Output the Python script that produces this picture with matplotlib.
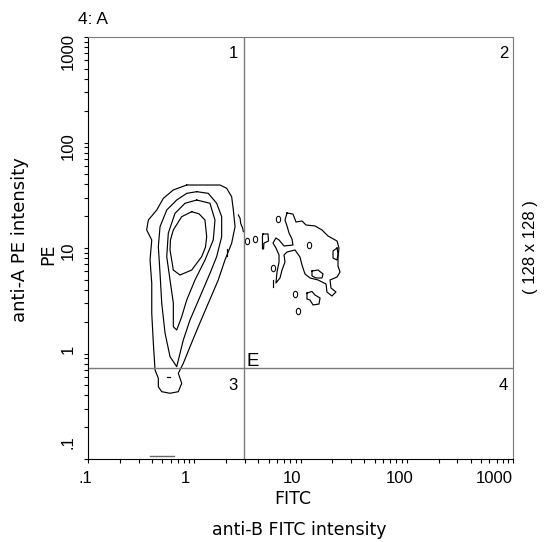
import numpy as np
import matplotlib
matplotlib.use("Agg")
import matplotlib.pyplot as plt
from matplotlib.path import Path
from matplotlib.transforms import Affine2D, ScaledTranslation, blended_transform_factory
from matplotlib.ticker import LogLocator, NullFormatter

plt.rcParams["font.family"] = ["Liberation Sans", "DejaVu Sans"]

# ---------------- data ----------------
title_text = "4: A"
x_title = "FITC"
x_caption = "anti-B FITC intensity"
y_title = "PE"
y_caption = "anti-A PE intensity"
grid_note = "( 128 x 128 )"
tick_values = [0.1, 1, 10, 100, 1000]
tick_labels = [".1", "1", "10", "100", "1000"]
quadrant_names = ["1", "2", "3", "4"]
gate_name = "E"
gate_fitc = 2.94
gate_pe = 0.73

# contour lines, coordinates in log10 intensity (FITC, PE)
# main population: level 1 (outer) ... level 4 (inner)
lev1_logx = [-0.071, 0.242, 0.305, 0.352, 0.368, 0.384, 0.352, 0.289, 0.226, 0.132, 0.038, -0.040,
             -0.103, -0.150, -0.118, -0.150, -0.228, -0.306, -0.338, -0.338, -0.369, -0.385, -0.400,
             -0.400, -0.416, -0.400, -0.448, -0.432, -0.353, -0.291, -0.197]
lev1_logy = [1.597, 1.597, 1.566, 1.486, 1.360, 1.202, 1.045, 0.886, 0.697, 0.476, 0.254, 0.064,
             -0.093, -0.188, -0.282, -0.362, -0.377, -0.362, -0.315, -0.235, -0.156, 0.097, 0.381,
             0.665, 0.886, 1.076, 1.171, 1.265, 1.360, 1.471, 1.550]

lev2_logx = [0.023, 0.132, 0.211, 0.258, 0.258, 0.211, 0.148, 0.054, -0.040, -0.103, -0.165, -0.228,
             -0.275, -0.306, -0.322, -0.338, -0.322, -0.259, -0.165, -0.071]
lev2_logy = [1.534, 1.518, 1.424, 1.297, 1.107, 0.918, 0.760, 0.538, 0.318, 0.128, -0.125, -0.030,
             0.194, 0.476, 0.760, 1.012, 1.202, 1.360, 1.455, 1.518]

lev3_logx = [0.023, 0.148, 0.195, 0.179, 0.101, 0.007, -0.071, -0.118, -0.165, -0.197, -0.197, -0.228,
             -0.259, -0.244, -0.181, -0.087]
lev3_logy = [1.455, 1.424, 1.265, 1.076, 0.886, 0.697, 0.507, 0.349, 0.223, 0.254, 0.479, 0.697,
             0.918, 1.142, 1.329, 1.424]

lev4_logx = [-0.024, 0.045, 0.101, 0.117, 0.106, 0.070, -0.024, -0.134, -0.197, -0.228, -0.224,
             -0.197, -0.118]
lev4_logy = [1.344, 1.324, 1.265, 1.107, 1.009, 0.918, 0.791, 0.744, 0.791, 0.981, 1.076, 1.171, 1.297]

# double-positive cluster, outer level
right_logx = [0.873, 0.929, 0.958, 1.014, 1.052, 1.136, 1.202, 1.259, 1.344, 1.362, 1.353, 1.353,
              1.372, 1.344, 1.278, 1.287, 1.334, 1.296, 1.249, 1.240, 1.165, 1.089, 1.042, 1.014,
              0.995, 0.948, 0.873, 0.845, 0.854, 0.826, 0.807, 0.769, 0.779, 0.798, 0.798, 0.769,
              0.741, 0.769, 0.798, 0.845, 0.929, 0.920, 0.892, 0.873, 0.854]
right_logy = [1.332, 1.322, 1.246, 1.256, 1.218, 1.209, 1.171, 1.114, 1.066, 1.000, 0.905, 0.829,
              0.773, 0.725, 0.697, 0.621, 0.583, 0.545, 0.583, 0.659, 0.697, 0.716, 0.754, 0.839,
              0.915, 0.981, 0.962, 0.934, 0.867, 0.791, 0.716, 0.668, 0.773, 0.867, 0.934, 1.000,
              1.047, 1.095, 1.076, 1.019, 1.028, 1.085, 1.142, 1.209, 1.265]

# small closed islands
islandP_logx = [0.647, 0.694, 0.699, 0.656, 0.652, 0.642, 0.642]
islandP_logy = [1.133, 1.133, 1.066, 1.047, 0.991, 0.991, 1.114]
kidney_logx = [1.061, 1.108, 1.136, 1.184, 1.174, 1.118, 1.089, 1.061]
kidney_logy = [0.573, 0.588, 0.555, 0.526, 0.469, 0.460, 0.507, 0.517]
hole1_logx = [1.108, 1.165, 1.212, 1.202, 1.146, 1.108]
hole1_logy = [0.782, 0.791, 0.754, 0.716, 0.716, 0.735]
hole2_logx = [1.344, 1.306, 1.306, 1.344, 1.353]
hole2_logy = [1.000, 0.972, 0.905, 0.886, 0.943]

# open fragments
frag1_logx = [0.415, 0.431, 0.437, 0.456, 0.462]
frag1_logy = [1.313, 1.282, 1.234, 1.187, 1.155]
frag2_logx = [0.308, 0.308]
frag2_logy = [0.991, 0.924]
frag3_logx = [-0.259, -0.228]
frag3_logy = [-0.220, -0.220]
frag4_logx = [0.744, 0.744]
frag4_logy = [0.697, 0.633]
floor_logx = [-0.416, -0.191]
floor_logy = [-0.972, -0.972]

# tiny one-cell loops (centres)
loop_logx = [0.791, 0.572, 0.744, 0.948, 0.979, 1.080, 0.494]
loop_logy = [1.275, 1.085, 0.815, 0.564, 0.403, 1.028, 1.066]

# ---------------- figure ----------------
W, H = 549, 542
fig = plt.figure(figsize=(W / 100, H / 100), dpi=100)
ax = fig.add_axes([88 / W, 1 - 459 / H, 425 / W, 422 / H])
ax.set_xscale("log")
ax.set_yscale("log")
ax.set_xlim(0.1, 1000)
ax.set_ylim(0.1, 1000)

line_kw = dict(color="black", lw=0.85, solid_joinstyle="round")


def draw(lx, ly, closed=True, **kw):
    lx = np.asarray(lx, float)
    ly = np.asarray(ly, float)
    if closed:
        lx = np.r_[lx, lx[:1]]
        ly = np.r_[ly, ly[:1]]
    kws = dict(line_kw)
    kws.update(kw)
    ax.plot(np.power(10.0, lx), np.power(10.0, ly), **kws)


for lx, ly in [(lev1_logx, lev1_logy), (lev2_logx, lev2_logy), (lev3_logx, lev3_logy),
               (lev4_logx, lev4_logy), (right_logx, right_logy), (islandP_logx, islandP_logy),
               (kidney_logx, kidney_logy), (hole1_logx, hole1_logy), (hole2_logx, hole2_logy)]:
    draw(lx, ly)

for lx, ly in [(frag1_logx, frag1_logy), (frag2_logx, frag2_logy), (frag3_logx, frag3_logy),
               (frag4_logx, frag4_logy)]:
    draw(lx, ly, closed=False)
draw(floor_logx, floor_logy, closed=False, color="#666666", lw=1.0)

loop_marker = Path.unit_circle().transformed(Affine2D().scale(0.68, 1.0))
ax.plot(np.power(10.0, loop_logx), np.power(10.0, loop_logy), linestyle="none",
        marker=loop_marker, markersize=4.6, markerfacecolor="none",
        markeredgecolor="black", markeredgewidth=0.75)

# gates
ax.axvline(gate_fitc, color="#7a7a7a", lw=1.0)
ax.axhline(gate_pe, color="#7a7a7a", lw=1.0)

# spines / ticks
for s in ["left", "bottom"]:
    ax.spines[s].set_color("black")
    ax.spines[s].set_linewidth(0.8)
for s in ["top", "right"]:
    ax.spines[s].set_color("#7a7a7a")
    ax.spines[s].set_linewidth(0.8)

for axis in (ax.xaxis, ax.yaxis):
    axis.set_major_locator(LogLocator(base=10, subs=(1.0,)))
    axis.set_minor_locator(LogLocator(base=10, subs=np.arange(2, 10)))
    axis.set_major_formatter(NullFormatter())
    axis.set_minor_formatter(NullFormatter())
ax.tick_params(which="both", direction="out", length=3, width=0.8, color="black",
               top=False, right=False)

# tick labels, placed beside their ticks
xlab_dx = [-3, -9, -8, -7, -19]
ylab_dy = [17, 4.5, -3, -4, -14.5]
bx = blended_transform_factory(ax.transData, ax.transAxes)
by = blended_transform_factory(ax.transAxes, ax.transData)
for v, t, dx in zip(tick_values, tick_labels, xlab_dx):
    ax.text(v, 0, t, transform=bx + ScaledTranslation(dx / 100, -24 / 100, fig.dpi_scale_trans),
            ha="center", va="baseline", fontsize=12, clip_on=False)
for v, t, dy in zip(tick_values, tick_labels, ylab_dy):
    ax.text(0, v, t, transform=by + ScaledTranslation(-20 / 100, dy / 100, fig.dpi_scale_trans),
            ha="center", va="center", rotation=90, fontsize=12, clip_on=False)


def fx(x):
    return x / W


def fy(y):
    return 1 - y / H


# titles / labels
fig.text(fx(78), fy(24), title_text, ha="left", va="baseline", fontsize=12.5)
fig.text(fx(292.5), fy(504), x_title, ha="center", va="baseline", fontsize=12.5, family="DejaVu Sans")
fig.text(fx(299), fy(535), x_caption, ha="center", va="baseline", fontsize=12.5, family="DejaVu Sans")
fig.text(fx(48), fy(254), y_title, ha="center", va="center", rotation=90, fontsize=12.5,
         family="DejaVu Sans")
fig.text(fx(20), fy(240), y_caption, ha="center", va="center", rotation=90, fontsize=13,
         family="DejaVu Sans")
fig.text(fx(530), fy(247.5), grid_note, ha="center", va="center", rotation=90, fontsize=12)

# quadrant labels
fig.text(fx(238), fy(57.5), quadrant_names[0], ha="right", va="baseline", fontsize=12)
fig.text(fx(508), fy(57.5), quadrant_names[1], ha="right", va="baseline", fontsize=12)
fig.text(fx(238), fy(390), quadrant_names[2], ha="right", va="baseline", fontsize=12)
fig.text(fx(508), fy(390), quadrant_names[3], ha="right", va="baseline", fontsize=12)
fig.text(fx(247), fy(366), gate_name, ha="left", va="baseline", fontsize=13.5)

fig.savefig("out.png", dpi=100)
